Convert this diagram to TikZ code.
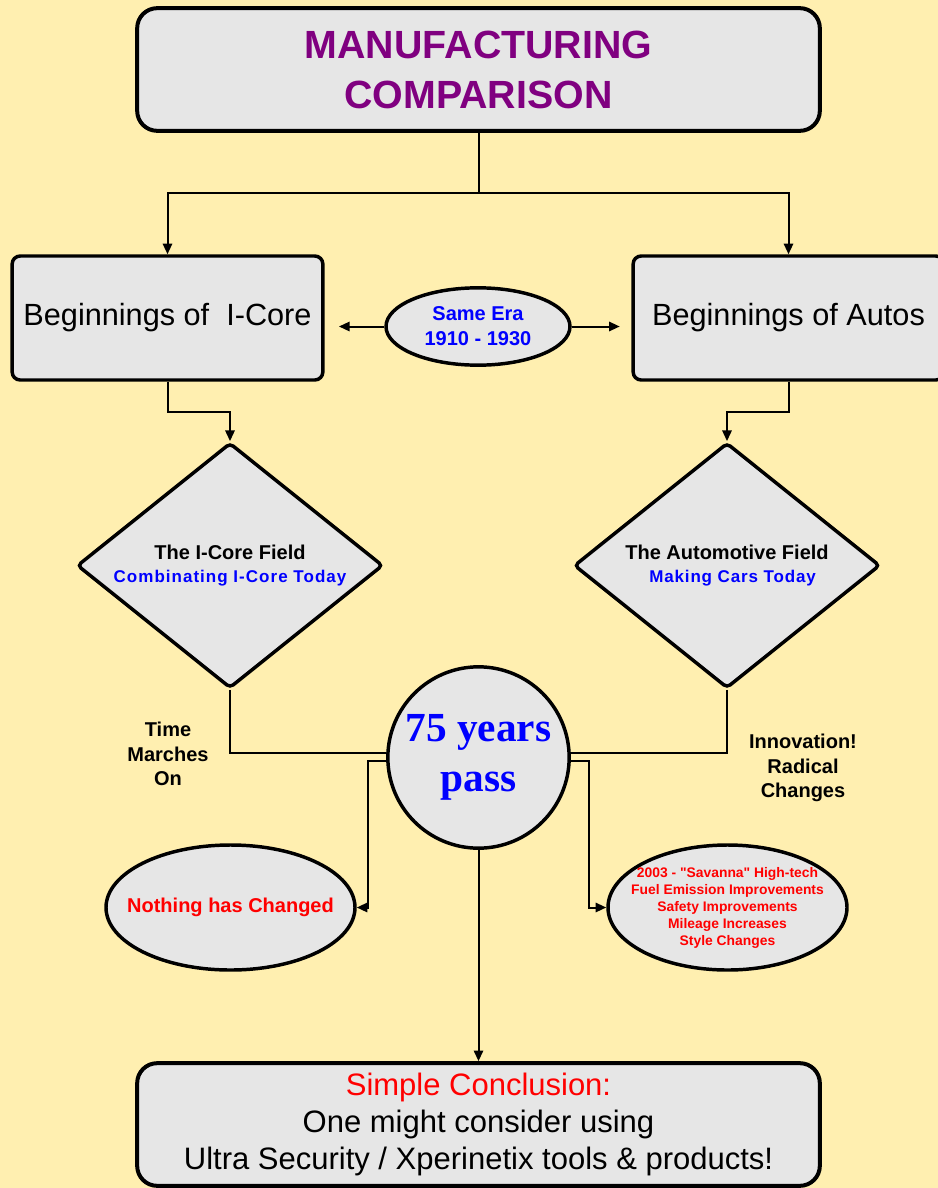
\documentclass[tikz,border=0pt]{standalone}
\usepackage{fontspec}
\setmainfont{Liberation Sans}
\newfontfamily\yearsfont{Liberation Serif}
\usetikzlibrary{positioning, shapes.geometric, arrows.meta}

\definecolor{paper}{HTML}{FFEFB0}
\definecolor{boxgray}{HTML}{E6E6E6}
\definecolor{titlepurple}{HTML}{800080}

\begin{document}
\begin{tikzpicture}[x=0.75pt, y=-0.75pt,
        box/.style={draw, line width=2.6pt, fill=boxgray, rounded corners=6pt},
        bigbox/.style={box, line width=3pt, rounded corners=15pt, minimum width=512pt, minimum height=92pt, align=center},
        sidebox/.style={box, minimum width=233pt, minimum height=93pt, font=\fontsize{23}{28}\selectfont},
        field/.style={draw, diamond, line width=2.6pt, fill=boxgray, rounded corners=3pt, aspect=1.25, inner sep=0pt,
            minimum width=229.5pt, minimum height=184pt, align=center, font=\bfseries\fontsize{15}{17}\selectfont},
        oval/.style={draw, ellipse, line width=2.6pt, fill=boxgray, inner xsep=-14pt, inner ysep=0pt, align=center},
        note/.style={align=center, font=\bfseries\fontsize{15}{18.4}\selectfont},
        conn/.style={line width=1.5pt},
        arr/.style={conn, -{Triangle[length=8pt, width=7pt]}}]
        \useasboundingbox (0,0) rectangle (938,1188);
        \fill[paper] (0,0) rectangle (938,1188);
        \clip (0,0) rectangle (938,1188);

        % top
        \node (title) [bigbox, text=titlepurple, font=\bfseries\fontsize{29.5}{37.5}\selectfont] at (478.5,69.5) {MANUFACTURING\\COMPARISON};
        \node (lbox) [sidebox] at (167.5,318) {Beginnings of\ \ I-Core};
        \node (rbox) [sidebox] at (788.5,318) {Beginnings of Autos};
        \node (era) [oval, minimum width=138pt, minimum height=58pt, text=blue, font=\bfseries\fontsize{15}{18.75}\selectfont] at (478,326.5) {Same Era\\1910 - 1930};
        \coordinate (split) at (478.5,193);
        \coordinate[left=34pt of era.west] (eraL);
        \coordinate[right=36pt of era.east] (eraR);

        % fields
        \node (ldia) [field] at (230,565.5) {The I-Core Field\\{\color{blue}\fontsize{12.75}{17}\selectfont\addfontfeature{LetterSpace=6}Combinating I-Core Today}};
        \node (rdia) [field] at (727,565.5) {The Automotive Field\\{\color{blue}\fontsize{12.75}{17}\selectfont\addfontfeature{LetterSpace=5}\ \ Making Cars Today}};

        % middle
        \node (years) [draw, circle, line width=2.6pt, fill=boxgray, minimum size=136pt, inner sep=0pt, align=center, text=blue,
            font=\yearsfont\bfseries\fontsize{31}{37.5}\selectfont] at (478.5,757.5) {75 years\\pass};
        \node (march) [note] at (168,754) {Time\\Marches\\On};
        \node (innov) [note] at (803,768) {Innovation!\\Radical\\Changes};
        \node (nothing) [oval, minimum width=186.75pt, minimum height=93.75pt, text=red, font=\bfseries\fontsize{15}{18}\selectfont] at (230.5,907.5) {Nothing has Changed};
        \node (savanna) [oval, minimum width=179.25pt, minimum height=93.75pt, text=red, font=\bfseries\fontsize{10.4}{12.75}\selectfont] at (727.5,907.5)
            {2003 - \textquotedbl Savanna\textquotedbl{} High-tech\\Fuel Emission Improvements\\Safety Improvements\\Mileage Increases\\Style Changes};

        % bottom
        \node (concl) [bigbox, font=\fontsize{23.25}{28}\selectfont] at (478.5,1124.5)
            {{\color{red}Simple Conclusion:}\\One might consider using\\Ultra Security / Xperinetix tools \& products!};

        \draw[conn] (title) -- (split);
        \draw[arr] (split) -| (lbox.north);
        \draw[arr] (split) -| (rbox.north);
        \draw[arr] (era) -- (eraL);
        \draw[arr] (era) -- (eraR);
        \draw[arr] (lbox.south) -- ++(0,30) -| (ldia.north);
        \draw[arr] (rbox.south) -- ++(0,30) -| (rdia.north);
        \draw[conn] (ldia.south) |- (years.177);
        \draw[conn] (rdia.south) |- (years.3);
        \draw[arr] (years.182) -- ++(-18,0) |- (nothing.east);
        \draw[arr] (years.358) -- ++(18,0) |- (savanna.west);
        \draw[arr] (years) -- (concl);
    \end{tikzpicture}
\end{document}
